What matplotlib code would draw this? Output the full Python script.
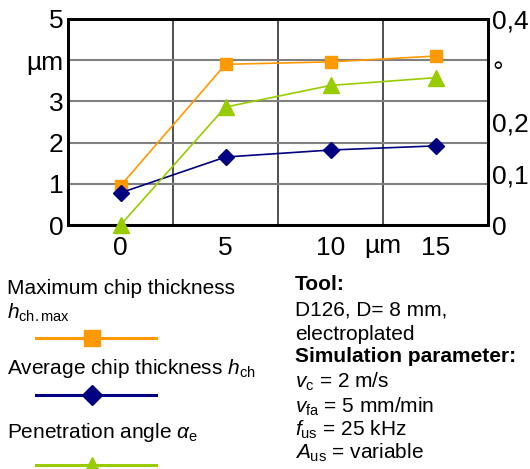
import matplotlib.pyplot as plt
import matplotlib.transforms as mtransforms
import numpy as np
from matplotlib.ticker import FixedLocator

plt.rcParams.update({
    "font.family": ["Liberation Sans", "DejaVu Sans"],
    "mathtext.fontset": "custom",
    "mathtext.rm": "Liberation Sans",
    "mathtext.it": "Liberation Sans:italic",
    "mathtext.bf": "Liberation Sans:bold",
})

# data
amplitude = ["0", "5", "10", "15"]
h_max = [0.95, 3.9, 3.96, 4.1]        # um
h_avg = [0.78, 1.65, 1.82, 1.92]      # um
alpha_e = [0.0, 0.229, 0.271, 0.286]  # deg

left_labels = ["0", "1", "2", "3", "\u00b5m", "5"]
right_labels = ["0", "0,1", "0,2", "\u00b0", "0,4"]

ORANGE = "#ff9900"
NAVY = "#000080"
GREEN = "#99cc00"

fig = plt.figure(figsize=(5.3, 4.69), dpi=100)
ax = fig.add_axes([68 / 530, 1 - 225 / 469, 420 / 530, 206 / 469])
ax2 = ax.twinx()

x = np.arange(len(amplitude))
ax.plot(x, h_max, color=ORANGE, marker="s", ms=9, lw=1.2, zorder=3)
ax.plot(x, h_avg, color=NAVY, marker="D", ms=8, lw=1.2, zorder=3)
ax2.plot(x, alpha_e, color=GREEN, marker="^", ms=11, lw=1.2, zorder=3,
         clip_on=False)

ax.set_xlim(-0.5, len(amplitude) - 0.5)
ax.set_ylim(0, 5)
ax2.set_ylim(0, 0.4)

ax.set_yticks(range(6))
ax.set_yticklabels(left_labels)
ax2.set_yticks(np.linspace(0, 0.4, 5))
ax2.set_yticklabels(right_labels)

ax.set_xticks(x)
ax.set_xticklabels(amplitude)
bounds = x[:-1] + 0.5
ax.xaxis.set_minor_locator(FixedLocator(bounds))
# unit label sits on the last category boundary
trans = mtransforms.blended_transform_factory(ax.transData, ax.transAxes)
ax.text(bounds[-1], -0.045, "\u00b5m", transform=trans, ha="center", va="top",
        fontsize=19)

ax.grid(axis="y", color="#808080", lw=1.5)
ax.grid(axis="x", which="minor", color="#202020", lw=1.1)
ax.set_axisbelow(True)

for a in (ax, ax2):
    a.tick_params(which="both", length=0, labelsize=19, pad=3)
    for s in a.spines.values():
        s.set_linewidth(2)
ax.tick_params(axis="x", pad=8)

# legend block on the left
fs = 15
fig.text(7 / 530, 1 - 288 / 469, "Maximum chip thickness", fontsize=fs, va="center")
fig.text(7 / 530, 1 - 313 / 469, r"$h_{\mathrm{ch.max}}$", fontsize=fs, va="center")
fig.text(7 / 530, 1 - 368 / 469, r"Average chip thickness $h_{\mathrm{ch}}$", fontsize=fs, va="center")
fig.text(7 / 530, 1 - 433 / 469, r"Penetration angle $\alpha_{\mathrm{e}}$", fontsize=fs, va="center")

for yy, col, mk, ms in [(338, ORANGE, "s", 11), (395, NAVY, "D", 10), (465, GREEN, "^", 12)]:
    fig.add_artist(plt.Line2D([36 / 530, 156 / 530], [1 - yy / 469] * 2, color=col, lw=2.2))
    fig.add_artist(plt.Line2D([92 / 530], [1 - yy / 469], color=col, marker=mk, ms=ms, lw=0))

# parameter block on the right
lines = [
    ("Tool:", 285, "bold"),
    ("D126, D= 8 mm,", 310, "normal"),
    ("electroplated", 334, "normal"),
    ("Simulation parameter:", 357, "bold"),
    (r"$v_{\mathrm{c}}$ = 2 m/s", 382, "normal"),
    (r"$v_{\mathrm{fa}}$ = 5 mm/min", 407, "normal"),
    (r"$f_{\mathrm{us}}$ = 25 kHz", 430, "normal"),
    (r"$A_{\mathrm{us}}$ = variable", 453, "normal"),
]
for txt, yy, w in lines:
    fig.text(295 / 530, 1 - yy / 469, txt, fontsize=fs, va="center", fontweight=w)

fig.savefig("out.png", dpi=100)
